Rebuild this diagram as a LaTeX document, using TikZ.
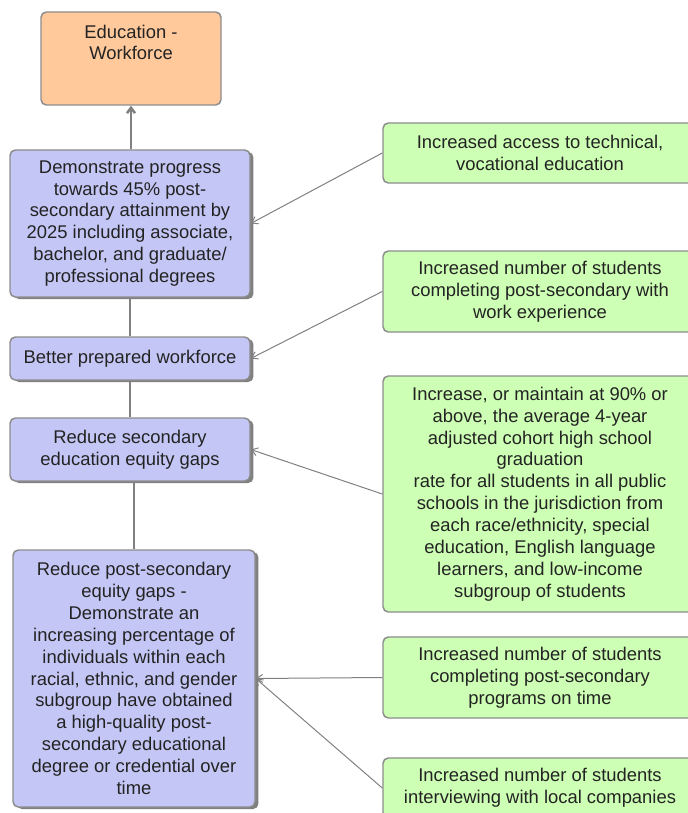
\documentclass[tikz,border=0pt]{standalone}
\usepackage{fontspec}
\setmainfont{Liberation Sans}
\usetikzlibrary{arrows.meta,shadows}

\definecolor{goalorange}{RGB}{255,201,156}
\definecolor{steplav}{RGB}{196,199,245}
\definecolor{resgreen}{RGB}{205,255,180}
\definecolor{edgegray}{RGB}{140,140,140}
\definecolor{linegray}{RGB}{128,128,128}
\definecolor{inkgray}{RGB}{35,35,35}

\tikzset{every picture/.style={line width=0.75pt}}
\tikzset{
  box/.style={draw=edgegray, line width=1.1pt, rounded corners=4pt, align=center,
    text=inkgray, inner sep=2pt, font=\fontsize{13.8}{16.4}\selectfont},
  goalbox/.style={box, fill=goalorange, minimum width=135pt, minimum height=69.75pt,
    text height=26.4pt, text depth=24.3pt, inner ysep=9.5pt},
  stepbox/.style={box, fill=steplav, minimum width=180pt,
    drop shadow={shadow xshift=2.6pt, shadow yshift=-1.5pt, fill=black!50, opacity=1}},
  resbox/.style={box, fill=resgreen, minimum width=235.5pt},
  trunk/.style={draw=linegray, line width=1.5pt},
  link/.style={draw=linegray, line width=0.75pt, -{Straight Barb[length=4.5pt,width=6pt]}}
}

\begin{document}
\begin{tikzpicture}[x=0.75pt,y=0.75pt,yscale=-1,xscale=1]
        \useasboundingbox (0,0) rectangle (688,813);
        \clip (0,0) rectangle (688,813);

        %Goal box
        \node [goalbox] (goal) at (131,58.5) {Education -\\Workforce};

        %Outcome boxes (left column)
        \node [stepbox, minimum height=110.25pt] (s1) at (130,223.5) {Demonstrate progress\\towards 45\% post-\\secondary attainment by\\2025 including associate,\\bachelor, and graduate/\\professional degrees};
        \node [stepbox, minimum height=32.25pt] (s2) at (130,358.5) {Better prepared workforce};
        \node [stepbox, minimum height=47.25pt] (s3) at (130,449.5) {Reduce secondary\\education equity gaps};
        \node [stepbox, minimum width=181.5pt, minimum height=192.75pt] (s4) at (134,678.5) {Reduce post-secondary\\equity gaps -\\Demonstrate an\\increasing percentage of\\individuals within each\\racial, ethnic, and gender\\subgroup have obtained\\a high-quality post-\\secondary educational\\degree or credential over\\time};

        %Result boxes (right column)
        \node [resbox, minimum height=45pt] (r1) at (540,153) {Increased access to technical,\\vocational education};
        \node [resbox, minimum height=60.75pt] (r2) at (540,291.5) {Increased number of students\\completing post-secondary with\\work experience};
        \node [resbox, minimum height=177pt] (r3) at (540,494) {Increase, or maintain at 90\% or\\above, the average 4-year\\adjusted cohort high school\\graduation\\rate for all students in all public\\schools in the jurisdiction from\\each race/ethnicity, special\\education, English language\\learners, and low-income\\subgroup of students};
        \node [resbox, minimum height=60.75pt] (r4) at (540,677.5) {Increased number of students\\completing post-secondary\\programs on time};
        \node [resbox, minimum height=45pt] (r5) at (540,788) {Increased number of students\\interviewing with local companies};

        %Trunk
        \draw [trunk, line width=1.9pt, -{Straight Barb[length=4pt,width=6pt]}] (s1.north -| goal.south) -- (goal.south);
        \draw [trunk] (s1.south) -- (s2.north);
        \draw [trunk] (s2.south) -- (s3.north);
        \draw [trunk, line width=0.9pt] (s3.south -| s4.north) -- (s4.north);

        %Links
        \draw [link] (r1.west) -- (s1.east);
        \draw [link] (r2.west) -- (s2.east);
        \draw [link] (r3.west) -- (s3.east);
        \draw [link] (r4.west) -- (s4.east);
        \draw [link] (r5.west) -- (s4.east);

\end{tikzpicture}
\end{document}
